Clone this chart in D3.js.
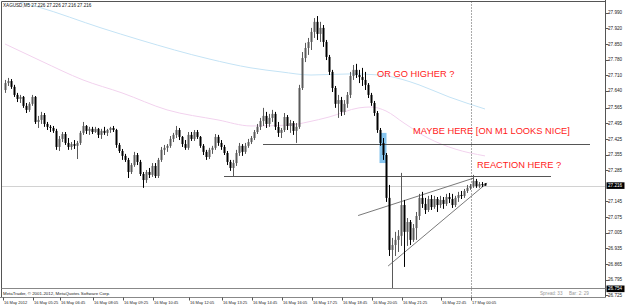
<!DOCTYPE html>
<html>
<head>
<meta charset="utf-8">
<script src="https://cdn.jsdelivr.net/npm/d3@7.9.0/dist/d3.min.js"></script>
<style>
  html, body { margin: 0; padding: 0; background: #fff; }
  svg { display: block; }
</style>
</head>
<body>
<svg id="chart" width="625" height="306"></svg>
<script>
// XAGUSD M5 bars (one entry per bar)
const opens = [
  27.644, 27.675, 27.684, 27.658, 27.622, 27.604, 27.613, 27.573, 27.555, 27.582,
  27.613, 27.501, 27.510, 27.532, 27.492, 27.479, 27.474, 27.461, 27.389, 27.425,
  27.447, 27.407, 27.389, 27.402, 27.394, 27.407, 27.452, 27.483, 27.461, 27.470,
  27.456, 27.470, 27.443, 27.461, 27.452, 27.465, 27.474, 27.465, 27.398, 27.371,
  27.349, 27.331, 27.277, 27.308, 27.353, 27.322, 27.268, 27.241, 27.277, 27.264,
  27.304, 27.259, 27.331, 27.376, 27.385, 27.394, 27.425, 27.443, 27.465, 27.434,
  27.402, 27.385, 27.443, 27.425, 27.456, 27.434, 27.394, 27.367, 27.344, 27.376,
  27.385, 27.434, 27.407, 27.389, 27.362, 27.322, 27.295, 27.317, 27.362, 27.394,
  27.367, 27.394, 27.411, 27.429, 27.456, 27.479, 27.505, 27.528, 27.492, 27.519,
  27.537, 27.479, 27.452, 27.465, 27.523, 27.483, 27.496, 27.461, 27.479, 27.653,
  27.787, 27.832, 27.859, 27.904, 27.949, 27.895, 27.922, 27.859, 27.792, 27.725,
  27.653, 27.582, 27.599, 27.546, 27.582, 27.622, 27.707, 27.734, 27.711, 27.702,
  27.689, 27.667, 27.622, 27.586, 27.541, 27.465, 27.407, 27.353, 27.161, 26.928,
  26.950, 26.973, 26.991, 27.129, 27.009, 27.053, 26.973, 27.026, 27.080, 27.161,
  27.134, 27.107, 27.156, 27.120, 27.156, 27.129, 27.152, 27.134, 27.165, 27.156,
  27.129, 27.161, 27.174, 27.170, 27.192, 27.206, 27.214, 27.237, 27.214, 27.223,
  27.226
];
const highs = [
  27.689, 27.698, 27.693, 27.667, 27.631, 27.622, 27.617, 27.586, 27.590, 27.622,
  27.617, 27.528, 27.546, 27.541, 27.501, 27.487, 27.483, 27.470, 27.438, 27.456,
  27.456, 27.429, 27.411, 27.420, 27.416, 27.461, 27.501, 27.487, 27.479, 27.479,
  27.479, 27.474, 27.470, 27.479, 27.470, 27.479, 27.483, 27.470, 27.407, 27.380,
  27.358, 27.340, 27.317, 27.367, 27.362, 27.331, 27.277, 27.286, 27.295, 27.317,
  27.317, 27.340, 27.389, 27.398, 27.402, 27.438, 27.452, 27.483, 27.474, 27.438,
  27.420, 27.456, 27.456, 27.465, 27.465, 27.438, 27.402, 27.376, 27.385, 27.394,
  27.447, 27.443, 27.420, 27.398, 27.371, 27.331, 27.331, 27.376, 27.407, 27.402,
  27.407, 27.425, 27.438, 27.465, 27.492, 27.519, 27.564, 27.546, 27.537, 27.555,
  27.546, 27.501, 27.474, 27.541, 27.532, 27.510, 27.505, 27.496, 27.667, 27.814,
  27.855, 27.877, 27.922, 27.966, 27.975, 27.949, 27.935, 27.868, 27.801, 27.734,
  27.662, 27.622, 27.613, 27.599, 27.635, 27.725, 27.756, 27.761, 27.734, 27.743,
  27.725, 27.675, 27.631, 27.595, 27.550, 27.474, 27.429, 27.362, 27.219, 26.982,
  27.009, 27.017, 27.273, 27.152, 27.071, 27.062, 27.044, 27.098, 27.179, 27.188,
  27.161, 27.170, 27.174, 27.170, 27.165, 27.170, 27.165, 27.179, 27.183, 27.179,
  27.170, 27.188, 27.192, 27.201, 27.219, 27.223, 27.264, 27.246, 27.232, 27.232,
  27.226
];
const lows = [
  27.631, 27.662, 27.649, 27.613, 27.590, 27.586, 27.564, 27.541, 27.546, 27.573,
  27.492, 27.474, 27.492, 27.479, 27.465, 27.456, 27.452, 27.376, 27.371, 27.411,
  27.398, 27.376, 27.376, 27.380, 27.335, 27.398, 27.443, 27.447, 27.443, 27.447,
  27.452, 27.429, 27.425, 27.443, 27.438, 27.452, 27.456, 27.385, 27.362, 27.331,
  27.322, 27.250, 27.268, 27.300, 27.308, 27.259, 27.206, 27.228, 27.250, 27.255,
  27.250, 27.250, 27.322, 27.353, 27.367, 27.385, 27.411, 27.429, 27.420, 27.389,
  27.376, 27.376, 27.416, 27.416, 27.425, 27.385, 27.353, 27.331, 27.335, 27.358,
  27.376, 27.394, 27.376, 27.353, 27.308, 27.282, 27.259, 27.304, 27.349, 27.349,
  27.358, 27.385, 27.402, 27.420, 27.447, 27.465, 27.483, 27.474, 27.479, 27.501,
  27.465, 27.434, 27.429, 27.456, 27.465, 27.452, 27.443, 27.407, 27.470, 27.644,
  27.769, 27.801, 27.823, 27.877, 27.868, 27.859, 27.837, 27.778, 27.711, 27.635,
  27.564, 27.519, 27.528, 27.532, 27.564, 27.608, 27.689, 27.698, 27.675, 27.662,
  27.644, 27.608, 27.573, 27.528, 27.452, 27.394, 27.331, 27.143, 26.901, 26.754,
  26.901, 26.919, 26.946, 26.852, 26.946, 26.950, 26.964, 26.973, 27.062, 27.116,
  27.089, 27.098, 27.107, 27.112, 27.098, 27.116, 27.112, 27.125, 27.138, 27.116,
  27.120, 27.143, 27.156, 27.161, 27.183, 27.197, 27.206, 27.206, 27.206, 27.210,
  27.216
];
const closes = [
  27.675, 27.684, 27.658, 27.622, 27.604, 27.613, 27.573, 27.555, 27.582, 27.613,
  27.501, 27.510, 27.532, 27.492, 27.479, 27.474, 27.461, 27.389, 27.425, 27.447,
  27.407, 27.389, 27.402, 27.394, 27.407, 27.452, 27.483, 27.461, 27.470, 27.456,
  27.470, 27.443, 27.461, 27.452, 27.465, 27.474, 27.465, 27.398, 27.371, 27.349,
  27.331, 27.277, 27.308, 27.353, 27.322, 27.268, 27.241, 27.277, 27.264, 27.304,
  27.259, 27.331, 27.376, 27.385, 27.394, 27.425, 27.443, 27.465, 27.434, 27.402,
  27.385, 27.443, 27.425, 27.456, 27.434, 27.394, 27.367, 27.344, 27.376, 27.385,
  27.434, 27.407, 27.389, 27.362, 27.322, 27.295, 27.317, 27.362, 27.394, 27.367,
  27.394, 27.411, 27.429, 27.456, 27.479, 27.505, 27.528, 27.492, 27.519, 27.537,
  27.479, 27.452, 27.465, 27.523, 27.483, 27.496, 27.461, 27.479, 27.653, 27.787,
  27.832, 27.859, 27.904, 27.949, 27.895, 27.922, 27.859, 27.792, 27.725, 27.653,
  27.582, 27.599, 27.546, 27.582, 27.622, 27.707, 27.734, 27.711, 27.702, 27.689,
  27.667, 27.622, 27.586, 27.541, 27.465, 27.407, 27.353, 27.161, 26.928, 26.950,
  26.973, 26.991, 27.129, 27.009, 27.053, 26.973, 27.026, 27.080, 27.161, 27.134,
  27.107, 27.156, 27.120, 27.156, 27.129, 27.152, 27.134, 27.165, 27.156, 27.129,
  27.161, 27.174, 27.170, 27.192, 27.206, 27.214, 27.237, 27.214, 27.223, 27.219,
  27.216
];

// moving averages (sampled at bar indices)
const blueMaBars   = [5, 11, 32, 45, 68, 82, 92, 102, 115, 125, 132, 138, 148, 160];
const blueMaValues = [28.038, 28.016, 27.922, 27.868, 27.783, 27.743, 27.725, 27.711, 27.716, 27.711, 27.693, 27.667, 27.613, 27.559];
const pinkMaBars   = [0, 12, 26, 39, 54, 71, 82, 95, 101, 108, 118, 122, 127, 133, 141, 150, 160];
const pinkMaValues = [27.850, 27.774, 27.689, 27.631, 27.555, 27.510, 27.483, 27.487, 27.501, 27.523, 27.564, 27.568, 27.550, 27.496, 27.429, 27.380, 27.349];

// axis
const priceTicks = [27.990, 27.920, 27.850, 27.780, 27.710, 27.640, 27.565, 27.495, 27.425,
                    27.355, 27.285, 27.145, 27.075, 27.005, 26.935, 26.865, 26.795, 26.725];
const markedPrices = [27.216, 26.754];
const timeLabels = ["16 May 2012", "16 May 05:25", "16 May 06:45", "16 May 08:05", "16 May 09:25",
                    "16 May 10:45", "16 May 12:05", "16 May 13:25", "16 May 14:45", "16 May 16:05",
                    "16 May 17:25", "16 May 18:45", "16 May 20:05", "16 May 21:25", "16 May 22:45",
                    "17 May 00:05"];
const timeLabelBars = [0, 10, 19, 30, 40, 50, 62, 73, 83, 93, 103, 113, 123, 133, 146, 156];

// drawn objects
const hLinePrices = [27.401, 27.259];
const hLineBars = [[86, 195], [73, 182]];
const trendStart = [[117.7, 27.082], [127.7, 26.856]];
const trendEnd   = [[156.1, 27.249], [160.7, 27.228]];
const boxBars = [125, 127];
const boxPrices = [27.452, 27.317];
const separatorBar = 156;
const bidPrice = 27.216;

const svg = d3.select("#chart");
const font = "'Liberation Sans', Arial, sans-serif";

const x = d3.scaleLinear().domain([0, 160]).range([5, 485]);
const y = d3.scaleLinear().domain([26.725, 27.990]).range([295.3, 12.7]);

const plotL = 1.5, plotR = 605.5, plotT = 1.5, plotB = 288.5;

svg.append("defs").append("clipPath").attr("id", "plot")
  .append("rect").attr("x", plotL).attr("y", plotT)
  .attr("width", plotR - plotL).attr("height", plotB - plotT);

const g = svg.append("g").attr("clip-path", "url(#plot)");

// bid line
g.append("line")
  .attr("x1", plotL).attr("x2", plotR)
  .attr("y1", Math.round(y(bidPrice)) + 0.5).attr("y2", Math.round(y(bidPrice)) + 0.5)
  .attr("stroke", "#d2d2d2");

// highlighted box
g.append("rect")
  .attr("x", x(boxBars[0]) - 0.5).attr("width", x(boxBars[1]) - x(boxBars[0]) + 1)
  .attr("y", y(boxPrices[0])).attr("height", y(boxPrices[1]) - y(boxPrices[0]))
  .attr("fill", "#86c4ee");

// moving averages
const maLine = d3.line().curve(d3.curveMonotoneX);
g.append("path")
  .attr("d", maLine(blueMaBars.map((b, i) => [x(b), y(blueMaValues[i])])))
  .attr("fill", "none").attr("stroke", "#c4e3f5").attr("stroke-width", 1);
g.append("path")
  .attr("d", maLine(pinkMaBars.map((b, i) => [x(b), y(pinkMaValues[i])])))
  .attr("fill", "none").attr("stroke", "#f2d2ee").attr("stroke-width", 1);

// horizontal lines
hLinePrices.forEach((p, i) => {
  const yy = Math.round(y(p)) + 0.5;
  g.append("line")
    .attr("x1", x(hLineBars[i][0])).attr("x2", x(hLineBars[i][1]))
    .attr("y1", yy).attr("y2", yy)
    .attr("stroke", "#555");
});

// trend lines
trendStart.forEach((s, i) => {
  g.append("line")
    .attr("x1", x(s[0])).attr("y1", y(s[1]))
    .attr("x2", x(trendEnd[i][0])).attr("y2", y(trendEnd[i][1]))
    .attr("stroke", "#6a6a6a").attr("stroke-width", 0.9);
});

// candles
const bars = g.append("g");
opens.forEach((o, i) => {
  const c = closes[i];
  const col = c > o ? "#5a5a5a" : "#000";
  const cx = Math.round(x(i));
  bars.append("line")
    .attr("x1", cx + 0.5).attr("x2", cx + 0.5)
    .attr("y1", y(highs[i])).attr("y2", y(lows[i]))
    .attr("stroke", col);
  const top = y(Math.max(o, c)), bot = y(Math.min(o, c));
  bars.append("rect")
    .attr("x", cx - 0.5).attr("width", 2)
    .attr("y", top).attr("height", Math.max(1, bot - top))
    .attr("fill", col);
});

// period separator
svg.append("line")
  .attr("x1", Math.round(x(separatorBar)) - 1.5).attr("x2", Math.round(x(separatorBar)) - 1.5)
  .attr("y1", plotT).attr("y2", 297.5)
  .attr("stroke", "#555").attr("stroke-dasharray", "1,2");

// annotations
const notes = [
  { text: "OR GO HIGHER ?", x: 377, y: 77.3 },
  { text: "MAYBE HERE [ON M1 LOOKS NICE]", x: 413, y: 134 },
  { text: "REACTION HERE ?", x: 477, y: 168 }
];
svg.selectAll("text.note").data(notes).join("text")
  .attr("class", "note")
  .attr("x", d => d.x).attr("y", d => d.y)
  .attr("font-family", font).attr("font-size", 9.3)
  .attr("fill", "#ff1a1a")
  .text(d => d.text);

// frame
const frame = svg.append("g").attr("stroke", "#555").attr("fill", "none");
frame.append("line").attr("x1", plotL).attr("x2", plotR).attr("y1", plotT).attr("y2", plotT);
frame.append("line").attr("x1", plotL).attr("x2", plotL).attr("y1", plotT).attr("y2", 297.5);
frame.append("line").attr("x1", plotR).attr("x2", plotR).attr("y1", 0).attr("y2", 297.5);
frame.append("line").attr("x1", plotL).attr("x2", plotR).attr("y1", plotB).attr("y2", plotB).attr("stroke", "#888");
frame.append("line").attr("x1", 0).attr("x2", plotR).attr("y1", 297.5).attr("y2", 297.5).attr("stroke", "#888");

// price axis
const yAxis = svg.append("g");
priceTicks.forEach(p => {
  const yy = y(p);
  yAxis.append("line").attr("x1", plotR).attr("x2", plotR + 3)
    .attr("y1", Math.round(yy) + 0.5).attr("y2", Math.round(yy) + 0.5).attr("stroke", "#555");
  yAxis.append("text").attr("x", 608).attr("y", yy).attr("dy", "0.35em")
    .attr("font-family", font).attr("font-size", 4.6).attr("fill", "#222")
    .text(p.toFixed(3));
});
markedPrices.forEach(p => {
  const yy = y(p);
  yAxis.append("rect").attr("x", plotR + 1).attr("y", yy - 3.3)
    .attr("width", 18).attr("height", 6.6).attr("fill", "#000");
  yAxis.append("text").attr("x", 608).attr("y", yy).attr("dy", "0.35em")
    .attr("font-family", font).attr("font-size", 4.6).attr("fill", "#fff")
    .text(p.toFixed(3));
});

// time axis
const xAxis = svg.append("g");
timeLabelBars.forEach((b, i) => {
  const tx = Math.max(1, Math.round(x(b)) - 2);
  xAxis.append("line").attr("x1", tx + 0.5).attr("x2", tx + 0.5)
    .attr("y1", 297.5).attr("y2", 300.5).attr("stroke", "#555");
  xAxis.append("text").attr("x", tx + 1).attr("y", 303.6)
    .attr("font-family", font).attr("font-size", 4).attr("fill", "#222")
    .text(timeLabels[i]);
});

// header and status bar
svg.append("text").attr("x", 3).attr("y", 6.6)
  .attr("font-family", font).attr("font-size", 4.6).attr("fill", "#111")
  .text("XAGUSD,M5  27.226 27.226 27.216 27.216");
svg.append("text").attr("x", 3).attr("y", 295)
  .attr("font-family", font).attr("font-size", 4.4).attr("fill", "#222")
  .text("MetaTrader, \u00a9 2001-2012, MetaQuotes Software Corp.");
svg.append("text").attr("x", 540).attr("y", 295)
  .attr("font-family", font).attr("font-size", 4.6).attr("fill", "#999")
  .text("Spread: 33");
svg.append("text").attr("x", 569).attr("y", 295)
  .attr("font-family", font).attr("font-size", 4.6).attr("fill", "#999")
  .text("Bar: 2: 29");
</script>
</body>
</html>
